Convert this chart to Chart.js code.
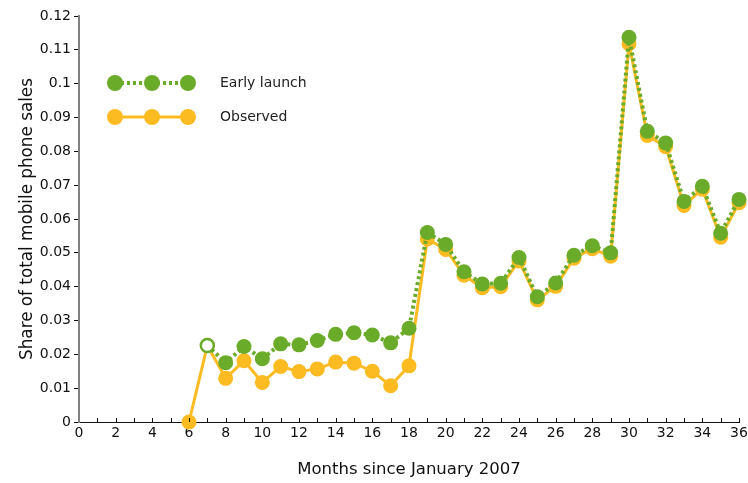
<!DOCTYPE html>
<html>
<head>
<meta charset="utf-8">
<script src="https://cdn.jsdelivr.net/npm/chart.js@4/dist/chart.umd.min.js"></script>
<style>
    html, body { margin: 0; padding: 0; background: #fff; }
    #wrap { width: 748px; height: 483px; }
</style>
</head>
<body>
<div id="wrap"><canvas id="grafico" width="748" height="483"></canvas></div>
<script>
// dados
const mesesObservado = [6, 7, 8, 9, 10, 11, 12, 13, 14, 15, 16, 17, 18, 19, 20, 21, 22, 23, 24, 25, 26, 27, 28, 29, 30, 31, 32, 33, 34, 35, 36];
const observado = [0, 0.0226, 0.0129, 0.0181, 0.0117, 0.0164, 0.0149, 0.0157, 0.0177, 0.0174, 0.0150, 0.0107, 0.0166,
    0.0541, 0.0510, 0.0434, 0.0397, 0.0400, 0.0476, 0.0361, 0.0401, 0.0484, 0.0512, 0.0490,
    0.1118, 0.0847, 0.0814, 0.0640, 0.0688, 0.0546, 0.0648];

const mesesAntecipado = [7, 8, 9, 10, 11, 12, 13, 14, 15, 16, 17, 18, 19, 20, 21, 22, 23, 24, 25, 26, 27, 28, 29, 30, 31, 32, 33, 34, 35, 36];
const antecipado = [0.0226, 0.0175, 0.0223, 0.0187, 0.0231, 0.0228, 0.0241, 0.0259, 0.0264, 0.0257, 0.0234, 0.0277,
    0.0560, 0.0525, 0.0444, 0.0408, 0.0410, 0.0486, 0.0370, 0.0411, 0.0493, 0.0521, 0.0500,
    0.1137, 0.0859, 0.0825, 0.0652, 0.0697, 0.0558, 0.0658];

const nomesSeries = ['Early launch', 'Observed'];
const tituloX = 'Months since January 2007';
const tituloY = 'Share of total mobile phone sales';

const VERDE = '#6aab2a';
const LARANJA = '#fdbb22';
const FONTE = "'DejaVu Sans', sans-serif";

// primeiro ponto do lançamento antecipado é um círculo vazado
const fundoVerde = antecipado.map((v, i) => i === 0 ? '#ffffff' : VERDE);
const bordaVerde = antecipado.map((v, i) => i === 0 ? 2.5 : 0);
const raioVerde = antecipado.map((v, i) => i === 0 ? 6.5 : 7.5);

// marcas de escala do eixo x apontando para dentro
const ticksX = {
    id: 'ticksX',
    afterDraw(chart) {
        const ctx = chart.ctx;
        const x = chart.scales.x;
        const y0 = chart.chartArea.bottom;
        ctx.save();
        ctx.strokeStyle = '#111';
        ctx.lineWidth = 1;
        ctx.beginPath();
        for (let m = 1; m <= 36; m++) {
            const px = Math.round(x.getPixelForValue(m)) + 0.5;
            ctx.moveTo(px, y0);
            ctx.lineTo(px, y0 - 4);
        }
        ctx.stroke();
        ctx.restore();
    }
};

// legenda com três marcadores
const legenda = {
    id: 'legenda',
    afterDraw(chart) {
        const ctx = chart.ctx;
        const itens = [
            { nome: nomesSeries[0], cor: VERDE, dash: [3, 3], largura: 4, y: 83 },
            { nome: nomesSeries[1], cor: LARANJA, dash: [], largura: 3, y: 117 }
        ];
        ctx.save();
        itens.forEach(it => {
            ctx.strokeStyle = it.cor;
            ctx.lineWidth = it.largura;
            ctx.setLineDash(it.dash);
            ctx.beginPath();
            ctx.moveTo(115, it.y);
            ctx.lineTo(188, it.y);
            ctx.stroke();
            ctx.setLineDash([]);
            ctx.fillStyle = it.cor;
            [115, 152, 188].forEach(cx => {
                ctx.beginPath();
                ctx.arc(cx, it.y, 8, 0, Math.PI * 2);
                ctx.fill();
            });
            ctx.fillStyle = '#222';
            ctx.font = '14px ' + FONTE;
            ctx.textBaseline = 'middle';
            ctx.fillText(it.nome, 220, it.y);
        });
        ctx.restore();
    }
};

new Chart(document.getElementById('grafico'), {
    type: 'line',
    data: {
        datasets: [
            {
                label: nomesSeries[0],
                data: mesesAntecipado.map((m, i) => ({ x: m, y: antecipado[i] })),
                borderColor: VERDE,
                borderWidth: 4,
                borderDash: [3, 3],
                borderJoinStyle: 'bevel',
                pointBackgroundColor: fundoVerde,
                pointBorderColor: VERDE,
                pointBorderWidth: bordaVerde,
                pointRadius: raioVerde,
                tension: 0,
                clip: false
            },
            {
                label: nomesSeries[1],
                data: mesesObservado.map((m, i) => ({ x: m, y: observado[i] })),
                borderColor: LARANJA,
                borderWidth: 3,
                borderJoinStyle: 'round',
                pointBackgroundColor: LARANJA,
                pointBorderWidth: 0,
                pointRadius: 7.5,
                tension: 0,
                clip: false
            }
        ]
    },
    options: {
        responsive: false,
        animation: false,
        layout: { padding: { left: 0, right: 7, top: 16, bottom: 0 } },
        plugins: {
            legend: { display: false },
            tooltip: { enabled: false }
        },
        scales: {
            x: {
                type: 'linear',
                min: 0,
                max: 36,
                grid: { display: false, drawTicks: false },
                border: { display: true, color: '#111', width: 1 },
                ticks: {
                    stepSize: 1,
                    autoSkip: false,
                    maxRotation: 0,
                    padding: 3,
                    color: '#111',
                    font: { family: FONTE, size: 14 },
                    callback: v => (v % 2 === 0 ? String(v) : '')
                },
                title: {
                    display: true,
                    text: tituloX,
                    color: '#111',
                    font: { family: FONTE, size: 16.5 },
                    padding: { top: 0, bottom: 3 }
                },
                afterFit(scale) {
                    scale.height = 61;
                    scale.paddingRight = 0;
                    scale.paddingLeft = 0;
                }
            },
            y: {
                min: 0,
                max: 0.12,
                grid: { display: true, drawOnChartArea: false, drawTicks: true, tickLength: 5, color: '#111', lineWidth: 1 },
                border: { display: true, color: '#808080', width: 2 },
                ticks: {
                    stepSize: 0.01,
                    padding: 3,
                    color: '#111',
                    font: { family: FONTE, size: 14 },
                    callback: v => String(parseFloat(v.toFixed(2)))
                },
                title: {
                    display: true,
                    text: tituloY,
                    color: '#111',
                    font: { family: FONTE, size: 16.8 },
                    padding: { top: 18, bottom: 0 }
                },
                afterFit(scale) {
                    scale.width = 79;
                }
            }
        }
    },
    plugins: [ticksX, legenda]
});
</script>
</body>
</html>
